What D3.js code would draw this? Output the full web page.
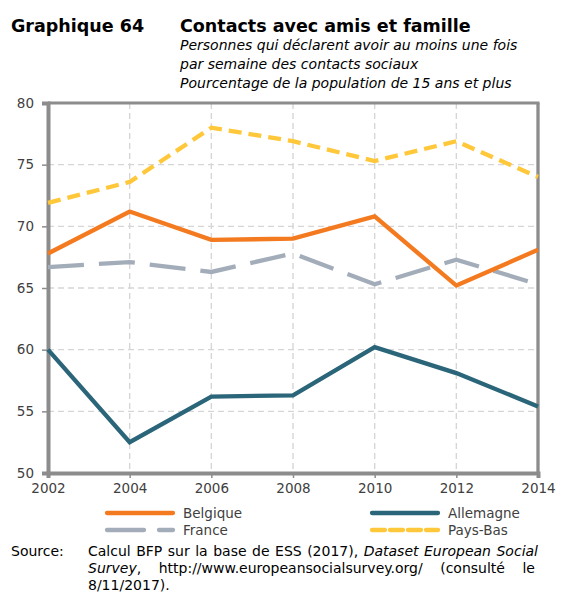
<!DOCTYPE html>
<html><head><meta charset="utf-8">
<script src="https://cdn.jsdelivr.net/npm/d3@7"></script>
<style>body{margin:0;background:#fff}svg{display:block}</style>
</head><body>
<svg id="c" width="581" height="603"></svg>
<script>
const years = [2002, 2004, 2006, 2008, 2010, 2012, 2014];
const belgique = [67.8, 71.2, 68.9, 69.0, 70.8, 65.2, 68.1];
const allemagne = [60.0, 52.5, 56.2, 56.3, 60.2, 58.1, 55.4];
const france = [66.7, 67.1, 66.3, 67.8, 65.3, 67.3, 65.3];
const paysBas = [71.9, 73.6, 78.0, 76.9, 75.3, 76.9, 74.0];
const yTicks = [50, 55, 60, 65, 70, 75, 80];

const series = [
  {name: "Belgique", values: belgique, color: "#F47A20", dash: null, legDash: null},
  {name: "Allemagne", values: allemagne, color: "#2A6579", dash: null, legDash: null},
  {name: "France", values: france, color: "#A3ADBA", dash: "36,15", legDash: "37,15"},
  {name: "Pays-Bas", values: paysBas, color: "#FFC83A", dash: "13,7", legDash: "13,5"}
];

const svg = d3.select("#c");
const F = "'DejaVu Sans', Verdana, sans-serif";
const L = 48, R = 538, T = 103, B = 473;
const x = d3.scaleLinear().domain([2002, 2014]).range([L, R]);
const y = d3.scaleLinear().domain([50, 80]).range([B, T]);

// Titles
svg.append("text").attr("x", 11).attr("y", 32).attr("font-family", F).attr("font-weight", "bold")
  .attr("font-size", 17.5).attr("fill", "#000").text("Graphique 64");
svg.append("text").attr("x", 180).attr("y", 32).attr("font-family", F).attr("font-weight", "bold")
  .attr("font-size", 17.5).attr("fill", "#000").text("Contacts avec amis et famille");
["Personnes qui déclarent avoir au moins une fois", "par semaine des contacts sociaux", "Pourcentage de la population de 15 ans et plus"]
  .forEach((t, i) => svg.append("text").attr("x", 180).attr("y", 50 + i * 18.8).attr("font-family", F)
    .attr("font-style", "italic").attr("font-size", 14).attr("fill", "#000").text(t));

// Gridlines
const g = svg.append("g");
g.selectAll(".hg").data(yTicks.filter(d => d > 50 && d < 80)).join("line")
  .attr("x1", L).attr("x2", R).attr("y1", d => y(d)).attr("y2", d => y(d))
  .attr("stroke", "#d6d6d6").attr("stroke-width", 1.4).attr("stroke-dasharray", "6,4");
g.selectAll(".vg").data(years.slice(1, -1)).join("line")
  .attr("y1", T).attr("y2", B).attr("x1", d => x(d)).attr("x2", d => x(d))
  .attr("stroke", "#d6d6d6").attr("stroke-width", 1.4).attr("stroke-dasharray", "6,4");

// Frame
svg.append("line").attr("x1", L).attr("x2", R + 1.5).attr("y1", T).attr("y2", T).attr("stroke", "#8c8c8c").attr("stroke-width", 3);
svg.append("line").attr("x1", R).attr("x2", R).attr("y1", T).attr("y2", B).attr("stroke", "#8c8c8c").attr("stroke-width", 3.3);

// Axes
const yAxis = d3.axisLeft(y).tickValues(yTicks).tickSize(6).tickPadding(8).tickFormat(d3.format("d"));
const ya = svg.append("g").attr("transform", `translate(${L},0)`).call(yAxis);
ya.select(".domain").attr("stroke", "#8c8c8c").attr("stroke-width", 4);
ya.selectAll(".tick line").attr("stroke", "#8c8c8c").attr("stroke-width", 1.5);
ya.selectAll("text").attr("font-family", F).attr("font-size", 13.5).attr("fill", "#404040");

const xAxis = d3.axisBottom(x).tickValues(years).tickSize(5).tickPadding(5).tickFormat(d3.format("d"));
const xa = svg.append("g").attr("transform", `translate(0,${B})`).call(xAxis);
xa.select(".domain").attr("stroke", "#8c8c8c").attr("stroke-width", 4);
xa.selectAll(".tick line").attr("stroke", "#8c8c8c").attr("stroke-width", 1.5);
xa.selectAll("text").attr("font-family", F).attr("font-size", 13.5).attr("fill", "#404040");
ya.select(".domain").raise();

// Lines
const line = d3.line().x((d, i) => x(years[i])).y(d => y(d));
const order = [series[2], series[3], series[0], series[1]];
svg.append("g").selectAll("path").data(order).join("path")
  .attr("d", s => line(s.values)).attr("fill", "none").attr("stroke", s => s.color)
  .attr("stroke-width", 4.3).attr("stroke-dasharray", s => s.dash)
  .attr("stroke-linejoin", "miter");

// Legend
const legPos = [
  {s: series[0], x: 105, y: 513}, {s: series[1], x: 370, y: 513},
  {s: series[2], x: 105, y: 530}, {s: series[3], x: 370, y: 530}
];
const lg = svg.append("g");
legPos.forEach(p => {
  lg.append("line").attr("x1", p.x + 2).attr("x2", p.x + 68).attr("y1", p.y).attr("y2", p.y)
    .attr("stroke", p.s.color).attr("stroke-width", 4.3).attr("stroke-linecap", "round")
    .attr("stroke-dasharray", p.s.legDash);
  lg.append("text").attr("x", p.x + 78).attr("y", p.y + 5).attr("font-family", F).attr("font-size", 13.5)
    .attr("fill", "#404040").text(p.s.name);
});

// Source
const sy = 556, lh = 17, FS = 14;
svg.append("text").attr("x", 11).attr("y", sy).attr("font-family", F).attr("font-size", FS).attr("fill", "#000").text("Source:");
function justified(words, yy, x0, x1) {
  const grp = svg.append("g");
  const nodes = words.map(w => {
    const t = grp.append("text").attr("y", yy).attr("font-family", F).attr("font-size", FS).attr("fill", "#000");
    w.forEach(p => t.append("tspan").attr("font-style", p.i ? "italic" : null).text(p.t));
    return t;
  });
  const widths = nodes.map(n => n.node().getComputedTextLength());
  const total = d3.sum(widths);
  const gap = x1 ? Math.max(3, (x1 - x0 - total) / (words.length - 1)) : 4.4;
  let cx = x0;
  nodes.forEach((n, k) => { n.attr("x", cx); cx += widths[k] + gap; });
}
justified([[{t:"Calcul"}],[{t:"BFP"}],[{t:"sur"}],[{t:"la"}],[{t:"base"}],[{t:"de"}],[{t:"ESS"}],[{t:"(2017),"}],[{t:"Dataset",i:1}],[{t:"European",i:1}],[{t:"Social",i:1}]], sy, 88, 538);
justified([[{t:"Survey",i:1},{t:","}],[{t:"http://www.europeansocialsurvey.org/"}],[{t:"(consulté"}],[{t:"le"}]], sy + lh, 88, 535);
justified([[{t:"8/11/2017)."}]], sy + 2 * lh, 88, null);
</script>
</body></html>
